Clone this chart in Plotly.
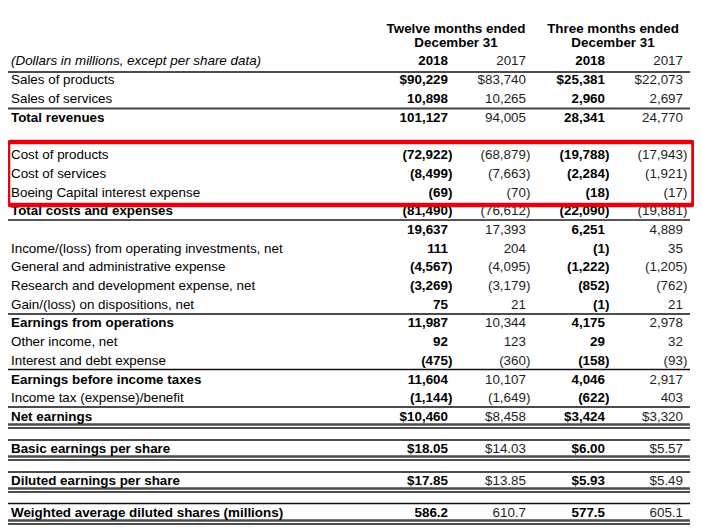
import plotly.graph_objects as go

# ---------------- data ----------------
labels = ["Sales of products", "Sales of services", "Total revenues", "",
          "Cost of products", "Cost of services", "Boeing Capital interest expense",
          "Total costs and expenses", "",
          "Income/(loss) from operating investments, net",
          "General and administrative expense",
          "Research and development expense, net",
          "Gain/(loss) on dispositions, net", "Earnings from operations",
          "Other income, net", "Interest and debt expense",
          "Earnings before income taxes", "Income tax (expense)/benefit",
          "Net earnings", "Basic earnings per share", "Diluted earnings per share",
          "Weighted average diluted shares (millions)"]

twelve_2018 = [90229, 10898, 101127, None, -72922, -8499, -69, -81490, 19637, 111,
               -4567, -3269, 75, 11987, 92, -475, 11604, -1144, 10460, 18.05, 17.85, 586.2]
twelve_2017 = [83740, 10265, 94005, None, -68879, -7663, -70, -76612, 17393, 204,
               -4095, -3179, 21, 10344, 123, -360, 10107, -1649, 8458, 14.03, 13.85, 610.7]
three_2018 = [25381, 2960, 28341, None, -19788, -2284, -18, -22090, 6251, -1,
              -1222, -852, -1, 4175, 29, -158, 4046, -622, 3424, 6.00, 5.93, 577.5]
three_2017 = [22073, 2697, 24770, None, -17943, -1921, -17, -19881, 4889, 35,
              -1205, -762, 21, 2978, 32, -93, 2917, 403, 3320, 5.57, 5.49, 605.1]

column_years = ["2018", "2017", "2018", "2017"]
group_titles = ["Twelve months ended", "Three months ended"]
group_subtitle = "December 31"
units_note = "(Dollars in millions, except per share data)"

dollar_rows = [0, 18, 19, 20]
decimals = {19: 2, 20: 2, 21: 1}
bold_rows = [2, 7, 13, 16, 18, 19, 20, 21]

# ---------------- layout helpers ----------------
W, H = 702, 529
OFF = 8  # page body margin
FONT = "Liberation Sans, Arial, sans-serif"
FS = 13.4
DY = 1.0
row_y = [80 + DY + 18.7 * i for i in range(19)] + [449.5, 481.5, 513.5]
col_right = [448, 526, 605, 683]
label_x = 11
col_bold = [True, False, True, False]
PAREN = 4.4


def fmt(v, i):
    if v is None:
        return ""
    d = decimals.get(i, 0)
    s = f"{abs(v):,.{d}f}"
    if i in dollar_rows:
        s = "$" + s
    return f"({s})" if v < 0 else s


fig = go.Figure()


def add_text(xs, ys, texts, pos, bold=False, italic=False, color="#000"):
    fig.add_trace(go.Scatter(
        x=xs, y=ys, text=texts, mode="text", textposition=pos,
        textfont=dict(family=FONT, size=FS, color=color,
                      weight="bold" if bold else "normal",
                      style="italic" if italic else "normal"),
        hoverinfo="skip", showlegend=False, cliponaxis=False))


# row labels
for b in (True, False):
    idx = [i for i, l in enumerate(labels) if l and ((i in bold_rows) == b)]
    add_text([label_x] * len(idx), [row_y[i] for i in idx], [labels[i] for i in idx],
             "middle right", bold=b)

# value columns
for c, vals in enumerate([twelve_2018, twelve_2017, three_2018, three_2017]):
    xs, ys, ts = [], [], []
    for i, v in enumerate(vals):
        if v is None:
            continue
        xs.append(col_right[c] + (PAREN if v < 0 else 0))
        ys.append(row_y[i])
        ts.append(fmt(v, i))
    add_text(xs, ys, ts, "middle left", bold=col_bold[c],
             color="#000" if col_bold[c] else "#1e1e1e")

# headers
add_text([label_x], [62], [units_note], "middle right", italic=True)
for c, yr in enumerate(column_years):
    add_text([col_right[c]], [62], [yr], "middle left", bold=col_bold[c],
             color="#000" if col_bold[c] else "#1e1e1e")
for gx, t in zip([456, 613], group_titles):
    add_text([gx, gx], [30, 43.5], [t, group_subtitle], "middle center", bold=True)

# rules
shapes = []
rules = [(72, 1.3, "#111"), (108.5, 2.2, "#444"), (220, 2.2, "#555"),
         (314, 1.3, "#111"), (369.5, 1.3, "#111"), (407, 1.3, "#111"),
         (424.5, 2.4, "#4a4a4a"), (428, 1.4, "#111"),
         (440, 1.3, "#111"), (456.5, 2.4, "#4a4a4a"), (460, 1.4, "#111"),
         (472, 1.3, "#111"), (488.5, 2.4, "#4a4a4a"), (492, 1.4, "#111"),
         (503.5, 1.3, "#111"), (520.5, 2.4, "#4a4a4a"), (524, 1.4, "#111")]
for y, w, col in rules:
    shapes.append(dict(type="line", xref="x", yref="y", x0=7, x1=690, y0=y, y1=y,
                       line=dict(color=col, width=w), layer="below"))

# red highlight box (slightly rounded corners)
bx0, bx1, by0, by1, r = 8, 693.5, 142, 205, 3
box_path = (f"M{bx0 + r},{by0} L{bx1 - r},{by0} Q{bx1},{by0} {bx1},{by0 + r} "
            f"L{bx1},{by1 - r} Q{bx1},{by1} {bx1 - r},{by1} L{bx0 + r},{by1} "
            f"Q{bx0},{by1} {bx0},{by1 - r} L{bx0},{by0 + r} Q{bx0},{by0} {bx0 + r},{by0} Z")
shapes.append(dict(type="path", xref="x", yref="y", path=box_path,
                   line=dict(color="#e8000d", width=4.5), fillcolor="rgba(0,0,0,0)",
                   layer="above"))

fig.update_layout(
    width=W - OFF, height=H - OFF, margin=dict(l=0, r=0, t=0, b=0),
    paper_bgcolor="white", plot_bgcolor="white",
    xaxis=dict(range=[OFF, W], visible=False, fixedrange=True),
    yaxis=dict(range=[H, OFF], visible=False, fixedrange=True),
    shapes=shapes, showlegend=False,
)

fig.write_html("out.html")
